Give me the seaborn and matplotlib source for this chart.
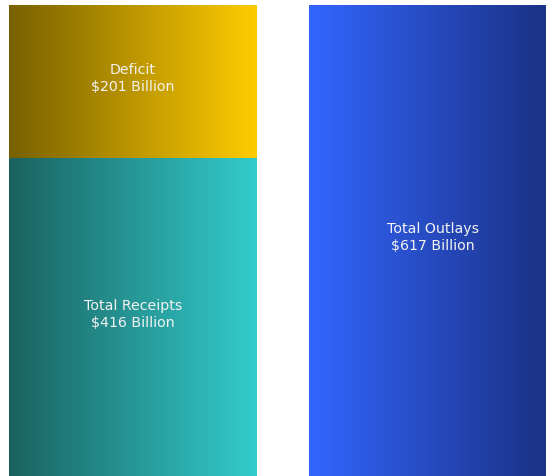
import numpy as np
import matplotlib
matplotlib.use("Agg")
import matplotlib.pyplot as plt
from matplotlib.colors import LinearSegmentedColormap
import matplotlib.transforms as mtransforms
import seaborn as sns

categories = ["Receipts", "Outlays"]
receipts = 416
deficit = 201
outlays = 617
labels = {
    "deficit": "Deficit\n$201 Billion",
    "receipts": "Total Receipts\n$416 Billion",
    "outlays": "Total Outlays\n$617 Billion",
}

sns.set_style("white")
plt.rcParams['font.family'] = ['DejaVu Sans']

fig = plt.figure(figsize=(5.46, 4.76), dpi=100)
ax = fig.add_axes([0, 0, 1, 1])
width = 248 / 300

sns.barplot(x=categories, y=[receipts + deficit, outlays], width=width,
            color="#cccccc", ax=ax, saturation=1)
n1 = len(ax.patches)
sns.barplot(x=categories, y=[receipts, 0], width=width,
            color="#cccccc", ax=ax, saturation=1)
patches = list(ax.patches)
stack_patch, outlay_patch = patches[0], patches[1]
receipt_patch = patches[n1]

grad = np.linspace(0, 1, 256).reshape(1, -1)
def fill(patch, c0, c1, z):
    x0, y0 = patch.get_x(), patch.get_y()
    w, h = patch.get_width(), patch.get_height()
    cmap = LinearSegmentedColormap.from_list("g", [c0, c1])
    im = ax.imshow(grad, cmap=cmap, extent=[x0, x0 + w, y0, y0 + h],
                   aspect="auto", zorder=z, interpolation="bicubic")
    im.set_clip_path(patch)
    patch.set_edgecolor("none")
    return x0 + w / 2

cx_l = fill(stack_patch, "#786000", "#ffcc00", 3)
cx_r = fill(outlay_patch, "#3366ff", "#1a3080", 3)
fill(receipt_patch, "#1a6260", "#33cccc", 4)

tc = "#f2f2f2"
fs = 10.2
up = mtransforms.offset_copy(ax.transData, fig=fig, x=0, y=3, units="dots")
for x, y, key in [(cx_l, receipts + deficit / 2, "deficit"),
                  (cx_l, receipts / 2, "receipts"),
                  (cx_r, outlays / 2, "outlays")]:
    ax.text(x, y, labels[key], ha="center", va="center", color=tc,
            fontsize=fs, zorder=6, linespacing=1.3, transform=up)

ax.set_xlim(-133 / 300, (546 - 133) / 300)
ax.set_ylim(0, outlays * 476 / 471)
ax.axis("off")

fig.savefig("out.png", dpi=100)
